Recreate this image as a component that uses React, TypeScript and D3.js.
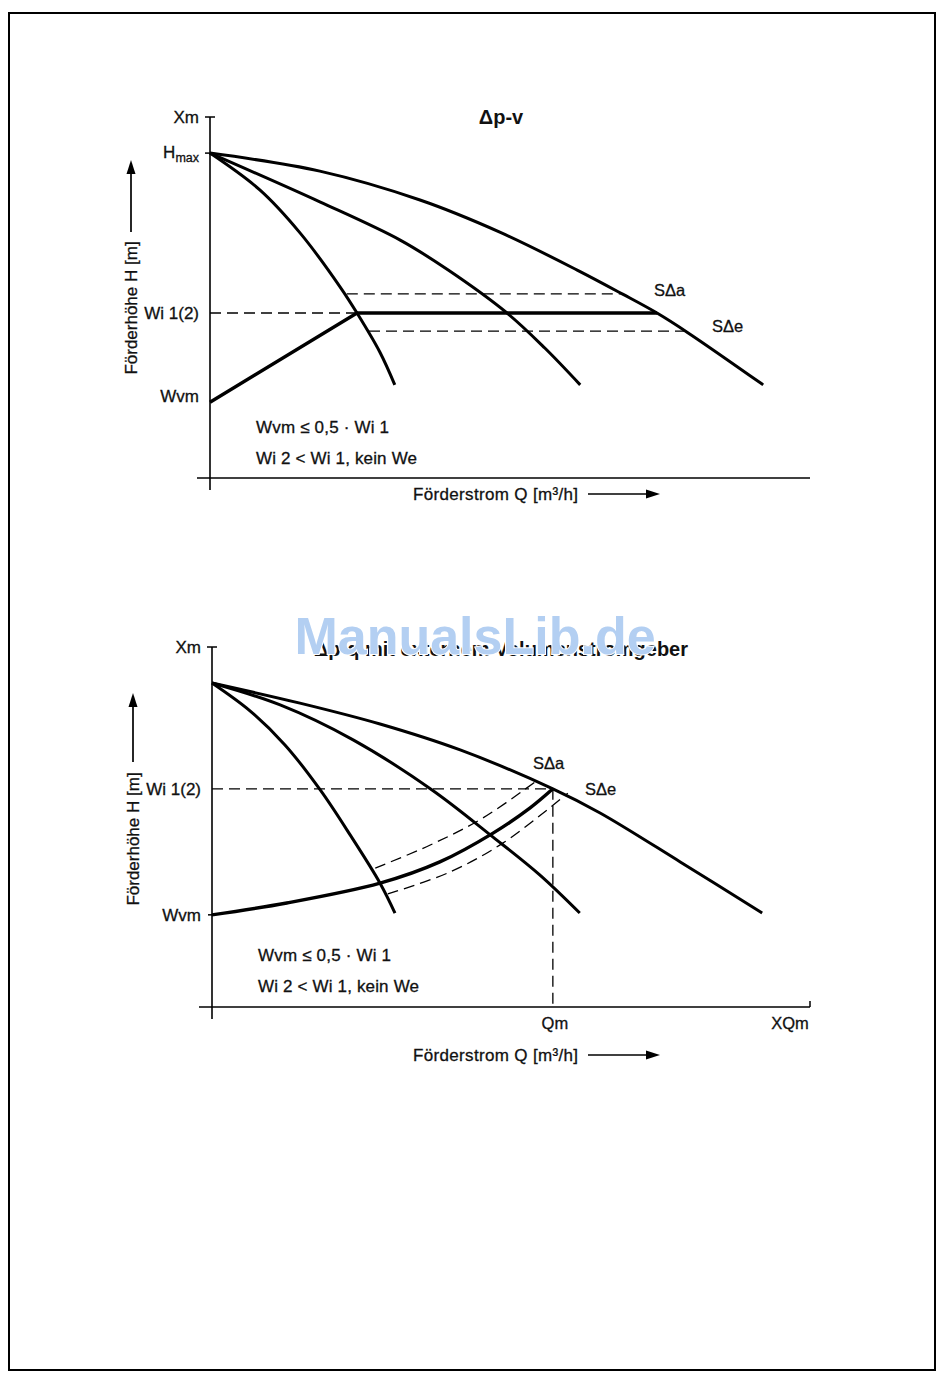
import React from "react";
import * as d3 from "d3";

type Pt = [number, number];

// ---- Δp-v panel (0..100 on both axes) ----
const pvCurveMin: Pt[] = [[0, 90], [8.3, 79.8], [15, 67.9], [21.7, 52.9], [24.5, 45.7], [28.3, 34.9], [30.8, 25.8]];
const pvCurveMid: Pt[] = [[0, 90], [18.3, 76.5], [31.7, 65.9], [39.7, 57.6], [49.5, 45.7], [55.8, 36], [61.7, 25.8]];
const pvCurveMax: Pt[] = [[0, 90], [18.3, 85], [35, 77], [48.3, 68.1], [61.2, 57.6], [68.7, 51], [74.5, 45.7], [79.7, 40.2], [92.2, 25.8]];
const pvControl: Pt[] = [[0, 21], [24.5, 45.7], [74.5, 45.7]];
const pvBandUpper: Pt[] = [[22.8, 51], [68.7, 51]];
const pvBandLower: Pt[] = [[26.5, 40.7], [79.2, 40.7]];
const pvWi = 45.7;
const pvWiEnd = 24.5;

// ---- Δp-q panel ----
const pqCurveMin: Pt[] = [[0, 90], [6.4, 82.2], [12.2, 72.8], [18.1, 60.3], [23.1, 47.8], [28.1, 34.4], [30.6, 26.1]];
const pqCurveMid: Pt[] = [[0, 90], [11.4, 83.9], [23.6, 74.2], [36.8, 60.3], [47, 47.2], [54.8, 36.7], [61.5, 26.1]];
const pqCurveMax: Pt[] = [[0, 90], [14.7, 84.4], [28.1, 78.6], [41.5, 71.4], [57, 60.6], [64.9, 53.9], [78.3, 40.3], [92, 26.1]];
const pqControl: Pt[] = [[0, 25.6], [12.5, 28.9], [28.1, 34.4], [38.1, 40.3], [47, 48.3], [53.2, 55.3], [57, 60.6]];
const pqBandUpper: Pt[] = [[27.3, 38.6], [36.5, 45], [45.3, 52.5], [54.5, 63.1]];
const pqBandLower: Pt[] = [[29.4, 31.4], [39.8, 37.5], [48.7, 45.6], [59.5, 59.4]];
const pqWi = 60.6;
const pqQm = 57;

const yTicksPv = [
  { label: "Xm", value: 100 },
  { label: "Hmax", value: 90 },
  { label: "Wi 1(2)", value: 45.7 },
  { label: "Wvm", value: 21 },
];
const yTicksPq = [
  { label: "Xm", value: 100 },
  { label: "Wi 1(2)", value: 60.6 },
  { label: "Wvm", value: 25.6 },
];
const xTicksPq = [
  { label: "Qm", value: 57 },
  { label: "XQm", value: 100 },
];

const FONT = "'Liberation Sans', Arial, Helvetica, sans-serif";

const Arrow = ({ x1, y1, x2, y2 }: { x1: number; y1: number; x2: number; y2: number }) => {
  const ang = Math.atan2(y2 - y1, x2 - x1);
  const L = 14, W = 4.5;
  const bx = x2 - L * Math.cos(ang), by = y2 - L * Math.sin(ang);
  const px = -Math.sin(ang) * W, py = Math.cos(ang) * W;
  return (
    <g>
      <line x1={x1} y1={y1} x2={bx} y2={by} stroke="#000" strokeWidth={1.7} />
      <polygon points={`${x2},${y2} ${bx + px},${by + py} ${bx - px},${by - py}`} fill="#000" />
    </g>
  );
};

function Panel({ kind, left, right, top, bottom }: { kind: "pv" | "pq"; left: number; right: number; top: number; bottom: number }) {
  const x = d3.scaleLinear().domain([0, 100]).range([left, right]);
  const y = d3.scaleLinear().domain([0, 100]).range([bottom, top]);
  const smooth = d3.line<Pt>().x((d) => x(d[0])).y((d) => y(d[1])).curve(d3.curveCatmullRom.alpha(0.5));
  const straight = d3.line<Pt>().x((d) => x(d[0])).y((d) => y(d[1]));

  const isPv = kind === "pv";
  const curves = isPv ? [pvCurveMin, pvCurveMid, pvCurveMax] : [pqCurveMin, pqCurveMid, pqCurveMax];
  const yTicks = isPv ? yTicksPv : yTicksPq;
  const wi = isPv ? pvWi : pqWi;
  const wiEnd = isPv ? pvWiEnd : pqQm;
  const dash = "11 6";
  const fs = 17;

  return (
    <g fontFamily={FONT} fill="#111" stroke="none">
      {/* axes */}
      <line x1={x(0)} y1={y(100)} x2={x(0)} y2={bottom + 12} stroke="#000" strokeWidth={1.6} />
      <line x1={x(0) - 13} y1={y(0)} x2={x(100)} y2={y(0)} stroke="#000" strokeWidth={1.6} />
      <line x1={x(0) - 5} y1={y(100)} x2={x(0) + 5} y2={y(100)} stroke="#000" strokeWidth={1.5} />
      {!isPv && <line x1={x(100)} y1={y(0) - 6} x2={x(100)} y2={y(0)} stroke="#000" strokeWidth={1.5} />}
      {isPv && <line x1={x(0) - 5} y1={y(90)} x2={x(0)} y2={y(90)} stroke="#000" strokeWidth={1.5} />}
      {!isPv && <line x1={x(0) - 4} y1={y(25.6)} x2={x(0)} y2={y(25.6)} stroke="#000" strokeWidth={1.5} />}

      <g stroke="#111" strokeWidth={0.3}>
        {/* y tick labels */}
        {yTicks.map((t) => {
          const yy = y(t.value) + (t.label === "Wvm" && isPv ? -6 : 0);
          if (t.label === "Hmax") {
            return (
              <text key={t.label} x={x(0) - 11} y={yy + 5} textAnchor="end" fontSize={fs}>
                H<tspan fontSize={12.5} dy={4}>max</tspan>
              </text>
            );
          }
          return (
            <text key={t.label} x={x(0) - 11} y={yy} dy="0.35em" textAnchor="end" fontSize={fs}>
              {t.label}
            </text>
          );
        })}

        {/* x tick labels */}
        {!isPv &&
          xTicksPq.map((t) => (
            <text key={t.label} x={x(t.value) - (t.value === 100 ? 20 : -2)} y={y(0) + 22} textAnchor="middle" fontSize={16.5}>
              {t.label}
            </text>
          ))}

        {/* curve labels */}
        {isPv ? (
          <>
            <text x={654} y={290} dy="0.35em" fontSize={16.5}>SΔa</text>
            <text x={712} y={326} dy="0.35em" fontSize={16.5}>SΔe</text>
          </>
        ) : (
          <>
            <text x={533} y={763} dy="0.35em" fontSize={16.5}>SΔa</text>
            <text x={585} y={789} dy="0.35em" fontSize={16.5}>SΔe</text>
          </>
        )}

        {/* notes */}
        <text x={x(0) + 46} y={isPv ? 427 : 955} dy="0.35em" fontSize={fs} textLength={133}>Wvm ≤ 0,5 · Wi 1</text>
        <text x={x(0) + 46} y={isPv ? 458 : 986} dy="0.35em" fontSize={fs} textLength={161}>Wi 2 &lt; Wi 1, kein We</text>

        {/* axis titles */}
        <text x={413} y={isPv ? 494 : 1055} dy="0.35em" fontSize={fs} textLength={165}>
          Förderstrom Q [m³/h]
        </text>
        <text
          transform={`translate(${isPv ? 131 : 133},${isPv ? 308 : 839}) rotate(-90)`}
          dy="0.35em"
          textAnchor="middle"
          fontSize={fs}
        >
          Förderhöhe H [m]
        </text>
      </g>
      <Arrow x1={588} y1={isPv ? 494 : 1055} x2={660} y2={isPv ? 494 : 1055} />
      <Arrow x1={isPv ? 131 : 133} y1={isPv ? 232 : 762} x2={isPv ? 131 : 133} y2={isPv ? 160 : 693} />

      {/* dashed guides */}
      <path d={straight([[0, wi], [wiEnd, wi]]) || ""} fill="none" stroke="#000" strokeWidth={1.3} strokeDasharray={dash} />
      {!isPv && (
        <path d={straight([[pqQm, pqWi], [pqQm, 0]]) || ""} fill="none" stroke="#000" strokeWidth={1.3} strokeDasharray={dash} />
      )}
      <path d={(isPv ? straight(pvBandUpper) : smooth(pqBandUpper)) || ""} fill="none" stroke="#000" strokeWidth={1.3} strokeDasharray={dash} />
      <path d={(isPv ? straight(pvBandLower) : smooth(pqBandLower)) || ""} fill="none" stroke="#000" strokeWidth={1.3} strokeDasharray={dash} />

      {/* pump curves */}
      {curves.map((c, i) => (
        <path key={i} d={smooth(c) || ""} fill="none" stroke="#000" strokeWidth={3} strokeLinecap="butt" />
      ))}
      {/* control curve */}
      <path d={(isPv ? straight(pvControl) : smooth(pqControl)) || ""} fill="none" stroke="#000" strokeWidth={3.4} strokeLinejoin="miter" />

      {/* title */}
      <text x={501} y={isPv ? 117 : 649} dy="0.35em" textAnchor="middle" fontSize={20} fontWeight="bold">
        {isPv ? "Δp-v" : "Δp-q mit externem Volumenstromgeber"}
      </text>
    </g>
  );
}

export default function App() {
  return (
    <svg
      width={950}
      height={1379}
      viewBox="0 0 950 1379"
      style={{ position: "absolute", left: 0, top: 0, background: "#fff" }}
    >
      <rect x={0} y={0} width={950} height={1379} fill="#fff" />
      <rect x={9} y={13} width={926} height={1357} fill="none" stroke="#000" strokeWidth={2} />
      <Panel kind="pv" left={210} right={810} top={117} bottom={478} />
      <Panel kind="pq" left={212} right={810} top={647} bottom={1007} />
      <text
        x={475}
        y={654}
        textAnchor="middle"
        fontFamily={FONT}
        fontWeight="bold"
        fontSize={52}
        fill="#b3cff2"
        stroke="#fff"
        strokeWidth={2}
        paintOrder="stroke"
      >
        ManualsLib.de
      </text>
    </svg>
  );
}
